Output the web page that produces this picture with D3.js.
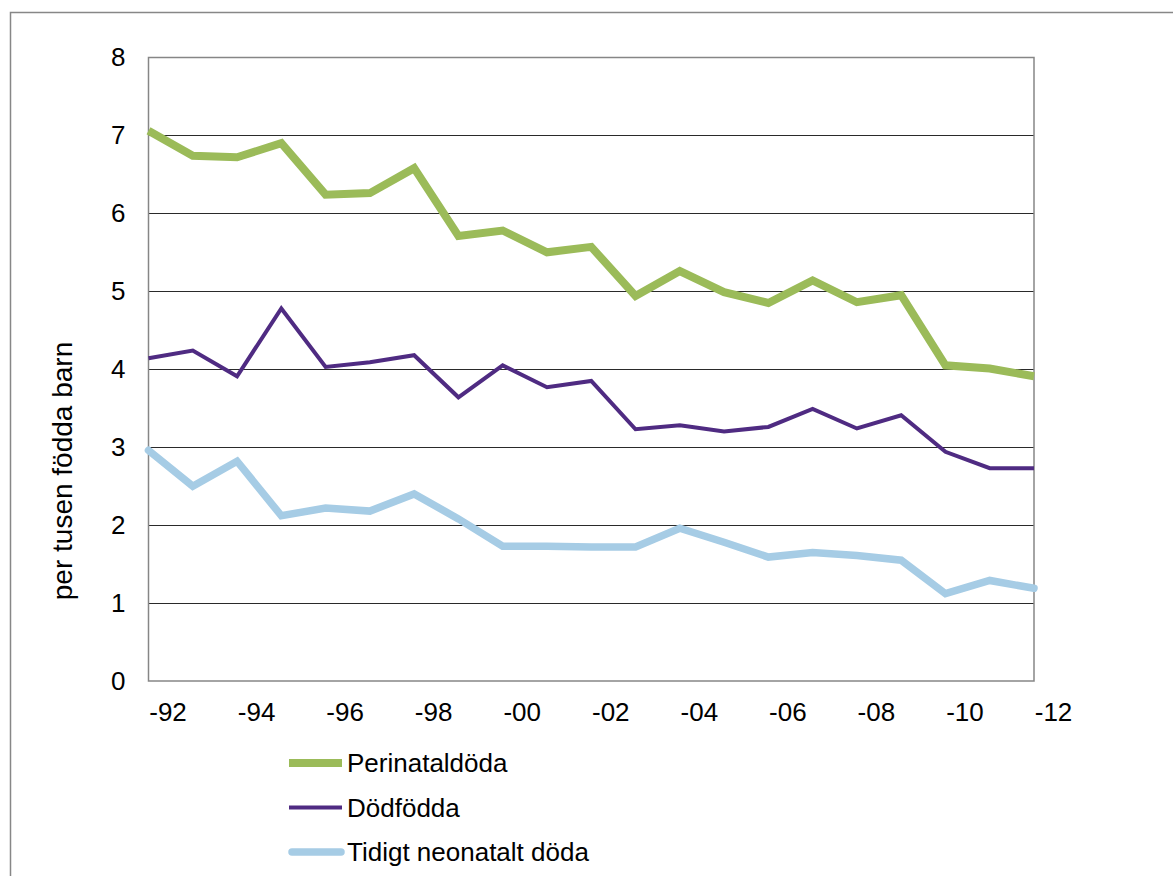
<!DOCTYPE html>
<html>
<head>
<meta charset="utf-8">
<script src="https://cdn.jsdelivr.net/npm/d3@7"></script>
<style>
  html, body { margin: 0; padding: 0; background: #fff; }
  svg { display: block; font-family: "Liberation Sans", Arial, sans-serif; }
</style>
</head>
<body>
<svg id="chart" width="1173" height="876"></svg>
<script>
const YEARS = d3.range(1992, 2013);
const TICK_YEARS = [1992, 1994, 1996, 1998, 2000, 2002, 2004, 2006, 2008, 2010, 2012];
const PERINATAL = [7.06, 6.74, 6.72, 6.90, 6.24, 6.26, 6.58, 5.71, 5.78, 5.50, 5.57,
  4.94, 5.26, 4.99, 4.85, 5.14, 4.86, 4.95, 4.05, 4.01, 3.91];
const STILLBORN = [4.14, 4.24, 3.91, 4.78, 4.03, 4.09, 4.18, 3.64, 4.05, 3.77, 3.85,
  3.23, 3.28, 3.20, 3.26, 3.49, 3.24, 3.41, 2.94, 2.73, 2.73];
const EARLY_NEONATAL = [2.96, 2.50, 2.82, 2.12, 2.22, 2.18, 2.40, 2.08, 1.73, 1.73, 1.72,
  1.72, 1.96, 1.78, 1.59, 1.65, 1.61, 1.55, 1.12, 1.29, 1.19];
const Y_TICKS = [0, 1, 2, 3, 4, 5, 6, 7, 8];

const series = [
  { name: 'Perinataldöda', values: PERINATAL, color: '#9BBB59', width: 8, cap: 'butt' },
  { name: 'Dödfödda', values: STILLBORN, color: '#4F2B82', width: 4, cap: 'butt' },
  { name: 'Tidigt neonatalt döda', values: EARLY_NEONATAL, color: '#A6CCE5', width: 7.5, cap: 'round' }
];

const svg = d3.select('#chart');
const plotLeft = 148.5, plotRight = 1034, plotTop = 57.5, plotBottom = 681;

// outer chart frame, runs off the page on the right and bottom
svg.append('rect')
  .attr('x', 10.5).attr('y', 12.5)
  .attr('width', 1200).attr('height', 900)
  .attr('fill', 'none').attr('stroke', '#878787').attr('stroke-width', 1.5);

const x = d3.scaleLinear().domain([1992, 2012]).range([plotLeft, plotRight]);
const y = d3.scaleLinear().domain([0, 8]).range([plotBottom, plotTop]);

// gridlines
svg.append('g')
  .selectAll('line')
  .data(Y_TICKS.filter(d => d > 0 && d < 8))
  .enter()
  .append('line')
  .attr('x1', plotLeft).attr('x2', plotRight)
  .attr('y1', d => Math.round(y(d)) + 0.5).attr('y2', d => Math.round(y(d)) + 0.5)
  .attr('stroke', '#2a2a2a').attr('stroke-width', 1);

// plot area border
svg.append('rect')
  .attr('x', plotLeft).attr('y', plotTop)
  .attr('width', plotRight - plotLeft).attr('height', plotBottom - plotTop)
  .attr('fill', 'none').attr('stroke', '#868686').attr('stroke-width', 1.5);

// y axis labels
const yAxis = svg.append('g')
  .attr('transform', `translate(${plotLeft},0)`)
  .call(d3.axisLeft(y).tickValues(Y_TICKS).tickSize(0).tickPadding(23).tickFormat(d3.format('d')));
yAxis.select('.domain').remove();
yAxis.selectAll('text')
  .attr('font-size', 26).attr('fill', '#000')
  .attr('font-family', '"Liberation Sans", Arial, sans-serif');

// x axis labels, Excel puts them a bit right of the category
const xAxis = svg.append('g')
  .attr('transform', `translate(19,${plotBottom})`)
  .call(d3.axisBottom(x).tickValues(TICK_YEARS).tickSize(0).tickPadding(22)
    .tickFormat(d => '-' + String(d).slice(2)));
xAxis.select('.domain').remove();
xAxis.selectAll('text')
  .attr('font-size', 26).attr('fill', '#000')
  .attr('font-family', '"Liberation Sans", Arial, sans-serif');

// axis title
svg.append('text')
  .attr('transform', 'translate(72,471) rotate(-90)')
  .attr('text-anchor', 'middle')
  .attr('font-size', 28)
  .text('per tusen födda barn');

// lines
const line = d3.line()
  .x((d, i) => x(YEARS[i]))
  .y(d => y(d));

svg.append('g')
  .selectAll('path')
  .data(series)
  .enter()
  .append('path')
  .attr('d', s => line(s.values))
  .attr('fill', 'none')
  .attr('stroke', s => s.color)
  .attr('stroke-width', s => s.width)
  .attr('stroke-linejoin', 'miter')
  .attr('stroke-linecap', s => s.cap);

// legend
const legend = svg.append('g')
  .selectAll('g')
  .data(series)
  .enter()
  .append('g')
  .attr('transform', (s, i) => `translate(0,${763 + i * 44.5})`);

legend.append('line')
  .attr('x1', s => s.cap === 'round' ? 292 : 289)
  .attr('x2', s => s.cap === 'round' ? 341 : 342)
  .attr('stroke', s => s.color)
  .attr('stroke-width', s => s.width)
  .attr('stroke-linecap', s => s.cap);

legend.append('text')
  .attr('x', 347)
  .attr('dy', '0.35em')
  .attr('font-size', 26)
  .text(s => s.name);
</script>
</body>
</html>
